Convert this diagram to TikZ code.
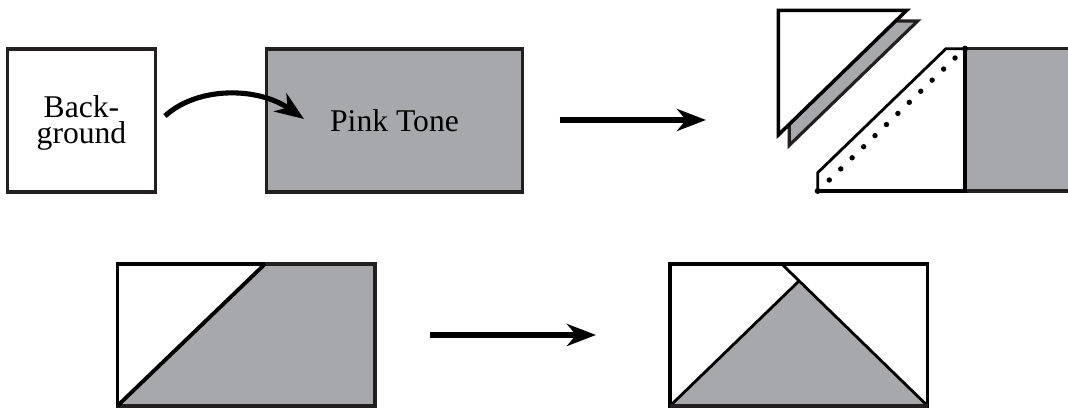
\documentclass[tikz,border=0pt]{standalone}
\usepackage{fontspec}
\setmainfont{Liberation Serif}
\usetikzlibrary{arrows.meta}
\definecolor{tone}{HTML}{A7A8AC}
\definecolor{edge}{HTML}{231F20}
\tikzset{
  piece/.style={draw=edge,line width=.9pt,line join=miter},
  toned/.style={piece,fill=tone},
  cutline/.style={draw=black,line width=.8pt},
  outline/.style={draw=black,line width=1pt},
  bigarrow/.style={draw=black,line width=1.65pt,-{Stealth[length=2.9mm,width=2.2mm,inset=.9mm]}},
  label/.style={font=\fontsize{9}{7.6}\selectfont,align=center,inner sep=0pt}
}
\begin{document}
\begin{tikzpicture}
    \useasboundingbox (0,0) rectangle (10.68,4.08);
    \node[piece,fill=white,minimum width=1.48cm,minimum height=1.43cm] (BG) at (.815,2.875) {};
    \node[label] (BGtext) at (.815,2.85) {Back-\\ground};
    \node[toned,minimum width=2.565cm,minimum height=1.43cm,label] (PT) at (3.945,2.875) {Pink Tone};
    \coordinate (C0) at (1.65,2.92);
    \coordinate (C1) at (3.04,2.89);
    \draw[bigarrow,line width=1.45pt] (C0) .. controls (1.98,3.22) and (2.58,3.21) .. (C1);
    \coordinate (A0) at (5.595,2.88);
    \coordinate (A1) at (7.06,2.88);
    \draw[bigarrow] (A0) -- (A1);
    \coordinate (B0) at (4.30,.73);
    \coordinate (B1) at (5.96,.73);
    \draw[bigarrow] (B0) -- (B1);
    \draw[toned] (7.893,2.85) -- (7.893,2.627) -- (9.177,3.87) -- (8.97,3.87);
    \draw[outline,fill=white] (7.783,3.977) -- (9.067,3.977) -- (7.783,2.73) -- cycle;
    \draw[toned] (9.65,3.593) -- (10.72,3.593) -- (10.72,2.17) -- (9.65,2.17) -- cycle;
    \draw[cutline,fill=white] (9.46,3.593) -- (9.65,3.593) -- (9.65,2.17) -- (8.177,2.17) -- (8.177,2.353) -- cycle;
    \draw[outline] (9.65,3.593) -- (9.65,2.17) -- (8.177,2.17);
    \fill (9.65,3.593) circle (.03);
    \fill (8.177,2.17) circle (.03);
    \foreach \i in {0,...,11}
      \fill ({8.293+\i*.1143},{2.28+\i*.1109}) circle (.027);
    \draw[toned] (1.173,.02) rectangle (3.75,1.44);
    \fill[white] (1.173,.02) -- (1.173,1.44) -- (2.65,1.44) -- cycle;
    \draw[outline] (1.173,.02) -- (1.173,1.44) -- (2.65,1.44);
    \draw[draw=black,line width=1.1pt] (1.173,.02) -- (2.65,1.44);
    \draw[outline,fill=white] (6.70,.02) rectangle (9.277,1.44);
    \fill[tone] (6.70,.02) -- (7.983,1.263) -- (9.277,.02) -- cycle;
    \draw[cutline] (6.70,.02) -- (7.983,1.263);
    \draw[cutline] (7.817,1.44) -- (9.277,.02);
    \draw[piece,line width=1pt] (6.70,.02) -- (9.277,.02);
\end{tikzpicture}
\end{document}
